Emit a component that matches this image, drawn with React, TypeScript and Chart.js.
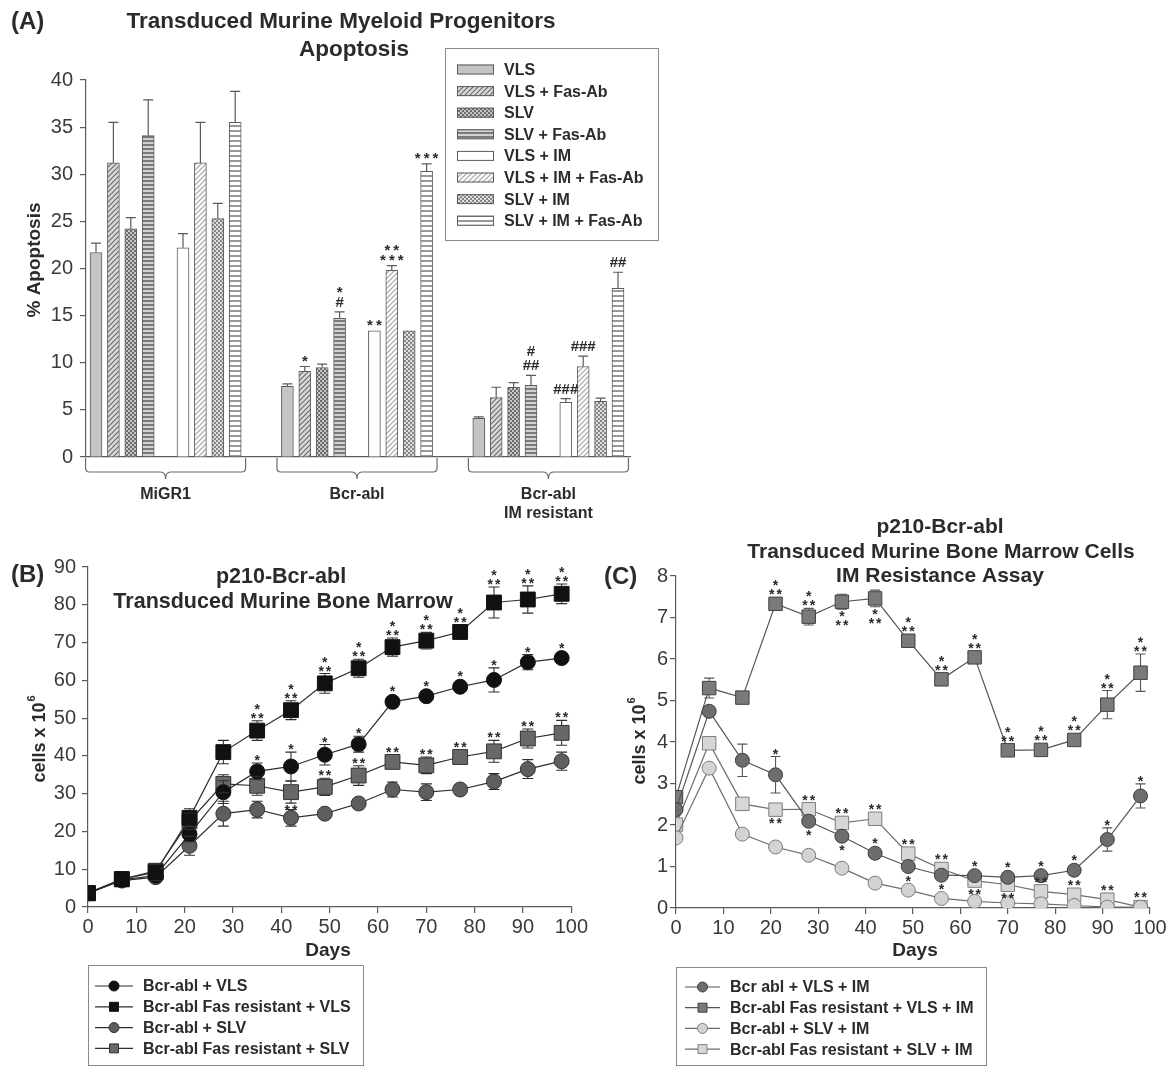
import { useEffect, useRef } from "react";
import { Chart, registerables } from "chart.js";

Chart.register(...registerables);

const FONT = "'Liberation Sans', Arial, Helvetica, sans-serif";
const INK = "#2b2b2b";
const TICK_INK = "#3a3a3a";
const AXIS = "#5a5a5a";

// ---------------- Panel A data ----------------
const aGroups = ["MiGR1", "Bcr-abl", "Bcr-abl\nIM resistant"];
const aConditions = ["VLS", "VLS + Fas-Ab", "SLV", "SLV + Fas-Ab", "VLS + IM", "VLS + IM + Fas-Ab", "SLV + IM", "SLV + IM + Fas-Ab"];
const apoVLS = [21.7, 7.5, 4.1];
const apoVLSFas = [31.2, 9.1, 6.3];
const apoSLV = [24.2, 9.5, 7.4];
const apoSLVFas = [34.1, 14.7, 7.6];
const apoVLSIM = [22.2, 13.4, 5.8];
const apoVLSIMFas = [31.2, 19.8, 9.6];
const apoSLVIM = [25.3, 13.4, 5.9];
const apoSLVIMFas = [35.5, 30.3, 17.9];
const errVLS = [1.0, 0.25, 0.15];
const errVLSFas = [4.3, 0.5, 1.1];
const errSLV = [1.2, 0.35, 0.5];
const errSLVFas = [3.8, 0.7, 1.05];
const errVLSIM = [1.5, 0, 0.4];
const errVLSIMFas = [4.3, 0.5, 1.1];
const errSLVIM = [1.6, 0, 0.35];
const errSLVIMFas = [3.3, 0.8, 1.7];
const sigVLS = ["", "", ""];
const sigVLSFas = ["", "*", ""];
const sigSLV = ["", "", ""];
const sigSLVFas = ["", "*\n#", "#\n##"];
const sigVLSIM = ["", "**", "###"];
const sigVLSIMFas = ["", "**\n***", "###"];
const sigSLVIM = ["", "", ""];
const sigSLVIMFas = ["", "***", "##"];

// ---------------- Panel B data ----------------
const days = [0, 7, 14, 21, 28, 35, 42, 49, 56, 63, 70, 77, 84, 91, 98];
const bLabels = ["Bcr-abl + VLS", "Bcr-abl Fas resistant + VLS", "Bcr-abl + SLV", "Bcr-abl Fas resistant + SLV"];
const bVLS = [3.7, 7.2, 8.3, 19.3, 30.4, 35.9, 37.2, 40.3, 43.1, 54.3, 55.8, 58.3, 60.1, 64.8, 65.9];
const bFasVLS = [3.7, 7.4, 9.2, 23.6, 41.0, 46.7, 52.1, 59.2, 63.2, 68.8, 70.5, 72.8, 80.6, 81.4, 82.9];
const bSLV = [3.6, 7.0, 7.9, 16.2, 24.7, 25.8, 23.6, 24.7, 27.4, 31.1, 30.4, 31.1, 33.2, 36.5, 38.6];
const bFasSLV = [3.6, 7.3, 9.6, 22.7, 32.6, 32.1, 30.4, 31.8, 34.8, 38.4, 37.5, 39.7, 41.2, 44.6, 46.1];
const bErrVLS = [0.5, 0.6, 1.5, 2.0, 3.0, 2.2, 3.8, 2.7, 2.1, 1.3, 1.6, 1.6, 3.2, 2.0, 1.8];
const bErrFasVLS = [0.4, 0.6, 2.2, 2.4, 3.1, 2.6, 2.5, 2.6, 2.4, 2.4, 2.2, 1.7, 4.1, 3.6, 2.6];
const bErrSLV = [0.4, 0.5, 1.2, 2.5, 3.3, 2.2, 2.2, 1.1, 1.3, 2.0, 2.2, 1.9, 2.1, 2.5, 2.4];
const bErrFasSLV = [0.4, 0.5, 1.5, 2.2, 2.4, 2.5, 2.9, 2.3, 2.6, 1.9, 2.2, 1.5, 2.9, 2.5, 3.3];
const bSigVLS = ["", "", "", "", "", "*", "*", "*", "*", "*", "*", "*", "*", "*", "*"];
const bSigFasVLS = ["", "", "", "", "", "*\n**", "*\n**", "*\n**", "*\n**", "*\n**", "*\n**", "*\n**", "*\n**", "*\n**", "*\n**"];
const bSigSLV = ["", "", "", "", "", "", "", "", "", "", "", "", "", "", ""];
const bSigFasSLV = ["", "", "", "", "", "", "**", "**", "**", "**", "**", "**", "**", "**", "**"];
const bSigFasSLVBelow = [6];

// ---------------- Panel C data ----------------
const cLabels = ["Bcr abl + VLS + IM", "Bcr-abl Fas resistant + VLS + IM", "Bcr-abl + SLV + IM", "Bcr-abl Fas resistant + SLV + IM"];
const cVLSIM = [2.37, 4.74, 3.56, 3.21, 2.09, 1.73, 1.32, 1.0, 0.79, 0.78, 0.74, 0.78, 0.91, 1.65, 2.7];
const cFasVLSIM = [2.67, 5.3, 5.07, 7.33, 7.02, 7.38, 7.46, 6.44, 5.51, 6.04, 3.8, 3.81, 4.05, 4.9, 5.67];
const cSLVIM = [1.69, 3.37, 1.78, 1.47, 1.27, 0.96, 0.6, 0.43, 0.23, 0.16, 0.12, 0.1, 0.06, 0.02, 0.02];
const cFasSLVIM = [2.01, 3.97, 2.51, 2.37, 2.38, 2.05, 2.15, 1.31, 0.94, 0.66, 0.56, 0.4, 0.32, 0.2, 0.02];
const cErrVLSIM = [0.1, 0.1, 0.39, 0.44, 0.08, 0.08, 0.06, 0.05, 0.05, 0.04, 0.05, 0.05, 0.05, 0.28, 0.29];
const cErrFasVLSIM = [0.1, 0.24, 0.05, 0.08, 0.2, 0.18, 0.2, 0.06, 0.05, 0.05, 0.05, 0.05, 0.07, 0.34, 0.45];
const cErrSLVIM = [0.05, 0.08, 0.05, 0.04, 0.04, 0.04, 0.03, 0.03, 0.03, 0.02, 0.02, 0.02, 0.02, 0.02, 0.02];
const cErrFasSLVIM = [0.05, 0.1, 0.05, 0.08, 0.1, 0.08, 0.08, 0.05, 0.05, 0.04, 0.04, 0.04, 0.04, 0.03, 0.02];
const cSigVLSIM = ["", "", "", "*", "*", "*", "*", "*", "*", "*", "*", "*", "*", "*", "*"];
const cSigVLSIMBelow = [4, 5, 7, 8];
const cSigFasVLSIM = ["", "", "", "*\n**", "*\n**", "*\n**", "*\n**", "*\n**", "*\n**", "*\n**", "*\n**", "*\n**", "*\n**", "*\n**", "*\n**"];
const cSigFasVLSIMBelow = [5, 6];
const cSigSLVIM = ["", "", "", "", "", "", "", "", "", "", "", "", "", "", ""];
const cSigFasSLVIM = ["", "", "", "**", "**", "**", "**", "**", "**", "**", "**", "**", "**", "**", "**"];
const cSigFasSLVIMBelow = [3, 9, 10];

// ---------------- helpers ----------------
function makePattern(w: number, h: number, draw: (c: CanvasRenderingContext2D) => void) {
  const cv = document.createElement("canvas");
  cv.width = w;
  cv.height = h;
  const c = cv.getContext("2d")!;
  draw(c);
  return c.createPattern(cv, "repeat")!;
}
function diagPattern(bg: string, fg: string, size: number) {
  return makePattern(size, size, (c) => {
    c.fillStyle = bg;
    c.fillRect(0, 0, size, size);
    c.strokeStyle = fg;
    c.lineWidth = 1.1;
    c.beginPath();
    c.moveTo(-1, size + 1);
    c.lineTo(size + 1, -1);
    c.moveTo(-1, 1);
    c.lineTo(1, -1);
    c.moveTo(size - 1, size + 1);
    c.lineTo(size + 1, size - 1);
    c.stroke();
  });
}
function checkerPattern(a: string, b: string) {
  return makePattern(4, 4, (c) => {
    c.fillStyle = b;
    c.fillRect(0, 0, 4, 4);
    c.fillStyle = a;
    c.fillRect(0, 0, 2, 2);
    c.fillRect(2, 2, 2, 2);
  });
}
function stripePattern(bg: string, fg: string, period: number, thick: number) {
  return makePattern(4, period, (c) => {
    c.fillStyle = bg;
    c.fillRect(0, 0, 4, period);
    c.fillStyle = fg;
    c.fillRect(0, 0, 4, thick);
  });
}

type TextItem = {
  text: string;
  x: number;
  y: number;
  size: number;
  bold?: boolean;
  align?: CanvasTextAlign;
  rotate?: boolean;
  sup?: string;
};

function textPlugin(items: TextItem[]) {
  return {
    id: "texts",
    afterDraw(chart: any) {
      const ctx: CanvasRenderingContext2D = chart.ctx;
      items.forEach((t) => {
        ctx.save();
        const f = `${t.bold ? "bold " : ""}${t.size}px ${FONT}`;
        ctx.font = f;
        ctx.fillStyle = INK;
        ctx.textBaseline = "middle";
        ctx.textAlign = t.align || "center";
        ctx.translate(t.x, t.y);
        if (t.rotate) ctx.rotate(-Math.PI / 2);
        if (t.sup) {
          const w1 = ctx.measureText(t.text).width;
          const sf = `${t.bold ? "bold " : ""}${Math.round(t.size * 0.62)}px ${FONT}`;
          ctx.font = sf;
          const w2 = ctx.measureText(t.sup).width;
          ctx.font = f;
          const start = -(w1 + w2 + 1) / 2;
          ctx.textAlign = "left";
          ctx.fillText(t.text, start, 0);
          ctx.font = sf;
          ctx.fillText(t.sup, start + w1 + 1, -t.size * 0.42);
        } else {
          ctx.fillText(t.text, 0, 0);
        }
        ctx.restore();
      });
    },
  };
}

function halfSize(ds: any) {
  if (ds.type === "bar" || ds.barThickness) return 0;
  const r = ds.pointRadius || 0;
  return ds.pointStyle === "rect" ? r * Math.SQRT1_2 : r;
}

function errorBarPlugin(opts: { upOnly: boolean; cap: number; width: number }) {
  return {
    id: "errorBars",
    afterDatasetsDraw(chart: any) {
      const ctx: CanvasRenderingContext2D = chart.ctx;
      const ys = chart.scales.y;
      chart.data.datasets.forEach((ds: any, di: number) => {
        if (!ds.errors) return;
        const meta = chart.getDatasetMeta(di);
        ctx.save();
        ctx.strokeStyle = ds.errorColor || AXIS;
        ctx.lineWidth = opts.width;
        meta.data.forEach((el: any, i: number) => {
          const e = ds.errors[i];
          if (!e) return;
          const v = ds.data[i].y;
          const x = el.x;
          const top = ys.getPixelForValue(v + e);
          const bot = opts.upOnly ? ys.getPixelForValue(v) : ys.getPixelForValue(v - e);
          const h = halfSize(ds);
          ctx.beginPath();
          if (opts.upOnly) {
            ctx.moveTo(x, bot);
            ctx.lineTo(x, top);
          } else {
            if (top < el.y - h) {
              ctx.moveTo(x, el.y - h);
              ctx.lineTo(x, top);
            }
            if (bot > el.y + h) {
              ctx.moveTo(x, el.y + h);
              ctx.lineTo(x, bot);
            }
          }
          if (top < el.y - h || opts.upOnly) {
            ctx.moveTo(x - opts.cap / 2, top);
            ctx.lineTo(x + opts.cap / 2, top);
          }
          if (!opts.upOnly && bot > el.y + h) {
            ctx.moveTo(x - opts.cap / 2, bot);
            ctx.lineTo(x + opts.cap / 2, bot);
          }
          ctx.stroke();
        });
        ctx.restore();
      });
    },
  };
}

function sigPlugin(opts: { size: number; gap: number; lineGap: number; starSpacing: number }) {
  return {
    id: "sigMarks",
    afterDatasetsDraw(chart: any) {
      const ctx: CanvasRenderingContext2D = chart.ctx;
      const ys = chart.scales.y;
      chart.data.datasets.forEach((ds: any, di: number) => {
        if (!ds.marks) return;
        const meta = chart.getDatasetMeta(di);
        const below: number[] = ds.marksBelow || [];
        const h = halfSize(ds);
        meta.data.forEach((el: any, i: number) => {
          const txt: string = ds.marks[i];
          if (!txt) return;
          const v = ds.data[i].y;
          const e = (ds.errors && ds.errors[i]) || 0;
          const lines = txt.split("\n");
          ctx.save();
          ctx.font = `bold ${opts.size}px ${FONT}`;
          ctx.fillStyle = INK;
          ctx.textAlign = "center";
          ctx.textBaseline = "alphabetic";
          const setLS = (line: string) => {
            const isStar = /^\*+$/.test(line);
            (ctx as any).letterSpacing = isStar ? `${opts.starSpacing}px` : "0px";
            return isStar ? opts.starSpacing / 2 : 0;
          };
          if (below.indexOf(i) < 0) {
            let cursor = Math.min(ys.getPixelForValue(v + e), el.y - h) - opts.gap;
            for (let k = lines.length - 1; k >= 0; k--) {
              const dx = setLS(lines[k]);
              const m = ctx.measureText(lines[k]);
              const base = cursor - m.actualBoundingBoxDescent;
              ctx.fillText(lines[k], el.x + dx, base);
              cursor = base - m.actualBoundingBoxAscent - opts.lineGap;
            }
          } else {
            let cursor = Math.max(ys.getPixelForValue(v - e), el.y + h) + opts.gap;
            for (const line of lines) {
              const dx = setLS(line);
              const m = ctx.measureText(line);
              const base = cursor + m.actualBoundingBoxAscent;
              ctx.fillText(line, el.x + dx, base);
              cursor = base + m.actualBoundingBoxDescent + opts.lineGap;
            }
          }
          ctx.restore();
        });
      });
    },
  };
}

function lineLegendPlugin(box: { x: number; y: number; w: number; h: number; row0: number; step: number; lx0: number; lx1: number; tx: number }) {
  return {
    id: "lineLegend",
    afterDraw(chart: any) {
      const ctx: CanvasRenderingContext2D = chart.ctx;
      ctx.save();
      ctx.strokeStyle = "#8a8a8a";
      ctx.lineWidth = 1;
      ctx.strokeRect(box.x + 0.5, box.y + 0.5, box.w, box.h);
      chart.data.datasets.forEach((ds: any, i: number) => {
        const y = box.row0 + i * box.step;
        ctx.strokeStyle = ds.borderColor;
        ctx.lineWidth = 1.2;
        ctx.beginPath();
        ctx.moveTo(box.lx0, y);
        ctx.lineTo(box.lx1, y);
        ctx.stroke();
        const cx = (box.lx0 + box.lx1) / 2;
        ctx.fillStyle = ds.pointBackgroundColor;
        ctx.strokeStyle = ds.pointBorderColor;
        ctx.lineWidth = 1;
        ctx.beginPath();
        if (ds.pointStyle === "rect") ctx.rect(cx - 4.5, y - 4.5, 9, 9);
        else ctx.arc(cx, y, 5, 0, Math.PI * 2);
        ctx.fill();
        ctx.stroke();
        ctx.fillStyle = INK;
        ctx.font = `bold 16px ${FONT}`;
        ctx.textAlign = "left";
        ctx.textBaseline = "middle";
        ctx.fillText(ds.label, box.tx, y + 1);
      });
      ctx.restore();
    },
  };
}

const SLOTS = [0, 1, 2, 3, 5, 6, 7, 8];
const GROUP_STEP = 11;

function configA(): any {
  const values = [apoVLS, apoVLSFas, apoSLV, apoSLVFas, apoVLSIM, apoVLSIMFas, apoSLVIM, apoSLVIMFas];
  const errs = [errVLS, errVLSFas, errSLV, errSLVFas, errVLSIM, errVLSIMFas, errSLVIM, errSLVIMFas];
  const sigs = [sigVLS, sigVLSFas, sigSLV, sigSLVFas, sigVLSIM, sigVLSIMFas, sigSLVIM, sigSLVIMFas];
  const fills: any[] = [
    "#c4c4c4",
    diagPattern("#d8d8d8", "#6a6a6a", 5),
    checkerPattern("#6c6c6c", "#c6c6c6"),
    stripePattern("#d2d2d2", "#7a7a7a", 4, 2),
    "#ffffff",
    diagPattern("#fbfbfb", "#a4a4a4", 5),
    checkerPattern("#858585", "#dedede"),
    stripePattern("#ffffff", "#999999", 5, 2),
  ];
  const datasets = aConditions.map((label, k) => ({
    type: "bar",
    label,
    data: aGroups.map((_, g) => ({ x: g * GROUP_STEP + SLOTS[k], y: values[k][g] })),
    errors: errs[k],
    marks: sigs[k],
    backgroundColor: fills[k],
    borderColor: "#5c5c5c",
    borderWidth: 1,
    barThickness: 12,
    grouped: false,
    errorColor: "#5a5a5a",
  }));

  const bracketPlugin = {
    id: "brackets",
    afterDraw(chart: any) {
      const ctx: CanvasRenderingContext2D = chart.ctx;
      const xs = chart.scales.x;
      const y0 = chart.chartArea.bottom + 1;
      ctx.save();
      ctx.strokeStyle = "#6a6a6a";
      ctx.lineWidth = 1.2;
      aGroups.forEach((name, g) => {
        const c = xs.getPixelForValue(g * GROUP_STEP + 4);
        const hw = xs.getPixelForValue(g * GROUP_STEP + 4 + 4.6) - c;
        const l = c - hw;
        const r = c + hw;
        const yb = y0 + 14;
        const tip = y0 + 21;
        ctx.beginPath();
        ctx.moveTo(l, y0);
        ctx.lineTo(l, yb - 4);
        ctx.quadraticCurveTo(l, yb, l + 4, yb);
        ctx.lineTo(c - 5, yb);
        ctx.quadraticCurveTo(c, yb, c, tip);
        ctx.quadraticCurveTo(c, yb, c + 5, yb);
        ctx.lineTo(r - 4, yb);
        ctx.quadraticCurveTo(r, yb, r, yb - 4);
        ctx.lineTo(r, y0);
        ctx.stroke();
        ctx.fillStyle = INK;
        ctx.font = `bold 16px ${FONT}`;
        ctx.textAlign = "center";
        ctx.textBaseline = "middle";
        name.split("\n").forEach((ln, k) => ctx.fillText(ln, c, 495 + k * 19));
      });
      ctx.restore();
    },
  };

  const legendPlugin = {
    id: "barLegend",
    afterDraw(chart: any) {
      const ctx: CanvasRenderingContext2D = chart.ctx;
      ctx.save();
      ctx.fillStyle = "#ffffff";
      ctx.fillRect(445, 48, 213, 192);
      ctx.strokeStyle = "#8a8a8a";
      ctx.lineWidth = 1;
      ctx.strokeRect(445.5, 48.5, 213, 192);
      chart.data.datasets.forEach((ds: any, i: number) => {
        const y = 69.5 + i * 21.6;
        ctx.fillStyle = ds.backgroundColor;
        ctx.fillRect(457, y - 5, 37, 10);
        ctx.strokeStyle = "#5c5c5c";
        ctx.strokeRect(457.5, y - 4.5, 36, 9);
        ctx.fillStyle = INK;
        ctx.font = `bold 16px ${FONT}`;
        ctx.textAlign = "left";
        ctx.textBaseline = "middle";
        ctx.fillText(ds.label, 504, y + 1);
      });
      ctx.restore();
    },
  };

  return {
    type: "bar",
    data: { datasets },
    options: {
      animation: false,
      responsive: false,
      maintainAspectRatio: false,
      layout: { padding: { left: 0, top: 80, right: 50, bottom: 0 } },
      plugins: { legend: { display: false }, tooltip: { enabled: false } },
      scales: {
        x: {
          type: "linear",
          offset: false,
          min: -0.575,
          max: 30.69,
          ticks: { display: false },
          grid: { display: false, offset: false },
          border: { display: true, color: AXIS, width: 1.2 },
          afterFit: (s: any) => {
            s.height = 73;
          },
        },
        y: {
          min: 0,
          max: 40,
          ticks: { stepSize: 5, color: TICK_INK, font: { size: 20, family: FONT }, padding: 7 },
          grid: { drawOnChartArea: false, drawTicks: true, tickLength: 6, color: AXIS, lineWidth: 1.2 },
          border: { color: AXIS, width: 1.2 },
          afterFit: (s: any) => {
            s.width = 86;
          },
        },
      },
    },
    plugins: [
      errorBarPlugin({ upOnly: true, cap: 10, width: 1.2 }),
      sigPlugin({ size: 15, gap: 5, lineGap: 4, starSpacing: 3 }),
      bracketPlugin,
      legendPlugin,
      textPlugin([
        { text: "(A)", x: 11, y: 22, size: 24, bold: true, align: "left" },
        { text: "Transduced Murine Myeloid Progenitors", x: 341, y: 22, size: 22.5, bold: true },
        { text: "Apoptosis", x: 354, y: 50, size: 22.5, bold: true },
        { text: "% Apoptosis", x: 35, y: 260, size: 19, bold: true, rotate: true },
      ]),
    ],
  };
}

function lineDataset(label: string, values: number[], errors: number[], marks: string[], below: number[], style: any) {
  return {
    type: "line",
    label,
    data: days.map((d, i) => ({ x: d, y: values[i] })),
    errors,
    marks,
    marksBelow: below,
    showLine: true,
    tension: 0,
    borderWidth: 1.2,
    pointBorderWidth: 1,
    pointHoverRadius: 0,
    ...style,
  };
}

function lineScales(yMax: number, yStep: number, yPad: number, yWidth: number): any {
  return {
    x: {
      type: "linear",
      min: 0,
      max: 100,
      ticks: { stepSize: 10, color: TICK_INK, font: { size: 20, family: FONT }, padding: 2, maxRotation: 0 },
      grid: { drawOnChartArea: false, drawTicks: true, tickLength: 6, color: AXIS, lineWidth: 1.2 },
      border: { color: AXIS, width: 1.2 },
      afterFit: (s: any) => {
        s.height = 40;
      },
    },
    y: {
      min: 0,
      max: yMax,
      ticks: { stepSize: yStep, color: TICK_INK, font: { size: 20, family: FONT }, padding: yPad },
      grid: { drawOnChartArea: false, drawTicks: true, tickLength: 6, color: AXIS, lineWidth: 1.2 },
      border: { color: AXIS, width: 1.2 },
      afterFit: (s: any) => {
        s.width = yWidth;
      },
    },
  };
}

function configB(): any {
  const dark = { borderColor: "#2e2e2e", errorColor: "#2e2e2e" };
  const datasets = [
    lineDataset(bLabels[0], bVLS, bErrVLS, bSigVLS, [], { ...dark, pointStyle: "circle", pointRadius: 7.5, pointBackgroundColor: "#111111", pointBorderColor: "#111111" }),
    lineDataset(bLabels[1], bFasVLS, bErrFasVLS, bSigFasVLS, [], { ...dark, pointStyle: "rect", pointRadius: 10.5, pointBackgroundColor: "#111111", pointBorderColor: "#111111" }),
    lineDataset(bLabels[2], bSLV, bErrSLV, bSigSLV, [], { ...dark, pointStyle: "circle", pointRadius: 7.5, pointBackgroundColor: "#5e5e5e", pointBorderColor: "#333333" }),
    lineDataset(bLabels[3], bFasSLV, bErrFasSLV, bSigFasSLV, bSigFasSLVBelow, { ...dark, pointStyle: "rect", pointRadius: 10.5, pointBackgroundColor: "#686868", pointBorderColor: "#333333" }),
  ];
  return {
    type: "line",
    data: { datasets },
    options: {
      animation: false,
      responsive: false,
      maintainAspectRatio: false,
      layout: { padding: { left: 0, top: 67, right: 18, bottom: 119 } },
      plugins: { legend: { display: false }, tooltip: { enabled: false } },
      scales: lineScales(90, 10, 6, 88),
    },
    plugins: [
      errorBarPlugin({ upOnly: false, cap: 11, width: 1.1 }),
      sigPlugin({ size: 14, gap: 2, lineGap: 3, starSpacing: 2 }),
      lineLegendPlugin({ x: 88, y: 465, w: 275, h: 100, row0: 486, step: 20.8, lx0: 95, lx1: 133, tx: 143 }),
      textPlugin([
        { text: "(B)", x: 11, y: 75, size: 24, bold: true, align: "left" },
        { text: "p210-Bcr-abl", x: 281, y: 77, size: 21.5, bold: true },
        { text: "Transduced Murine Bone Marrow", x: 283, y: 102, size: 21.5, bold: true },
        { text: "cells x 10", sup: "6", x: 40, y: 239, size: 18, bold: true, rotate: true },
        { text: "Days", x: 328, y: 451, size: 19, bold: true },
      ]),
    ],
  };
}

function configC(): any {
  const mid = { borderColor: "#555555", errorColor: "#555555" };
  const light = { borderColor: "#6e6e6e", errorColor: "#6e6e6e" };
  const datasets = [
    lineDataset(cLabels[0], cVLSIM, cErrVLSIM, cSigVLSIM, cSigVLSIMBelow, { ...mid, pointStyle: "circle", pointRadius: 7, pointBackgroundColor: "#6d6d6d", pointBorderColor: "#3c3c3c" }),
    lineDataset(cLabels[1], cFasVLSIM, cErrFasVLSIM, cSigFasVLSIM, cSigFasVLSIMBelow, { ...mid, pointStyle: "rect", pointRadius: 9.5, pointBackgroundColor: "#7a7a7a", pointBorderColor: "#404040" }),
    lineDataset(cLabels[2], cSLVIM, cErrSLVIM, cSigSLVIM, [], { ...light, pointStyle: "circle", pointRadius: 7, pointBackgroundColor: "#d3d3d3", pointBorderColor: "#7c7c7c" }),
    lineDataset(cLabels[3], cFasSLVIM, cErrFasSLVIM, cSigFasSLVIM, cSigFasSLVIMBelow, { ...light, pointStyle: "rect", pointRadius: 9.5, pointBackgroundColor: "#d6d6d6", pointBorderColor: "#7e7e7e" }),
  ];
  return {
    type: "line",
    data: { datasets },
    options: {
      animation: false,
      responsive: false,
      maintainAspectRatio: false,
      layout: { padding: { left: 0, top: 76, right: 24, bottom: 118 } },
      plugins: { legend: { display: false }, tooltip: { enabled: false } },
      scales: lineScales(8, 1, 2, 86),
    },
    plugins: [
      errorBarPlugin({ upOnly: false, cap: 10, width: 1.1 }),
      sigPlugin({ size: 14, gap: 2, lineGap: 3, starSpacing: 2 }),
      lineLegendPlugin({ x: 86, y: 467, w: 310, h: 98, row0: 487, step: 20.7, lx0: 95, lx1: 130, tx: 140 }),
      textPlugin([
        { text: "(C)", x: 14, y: 77, size: 24, bold: true, align: "left" },
        { text: "p210-Bcr-abl", x: 350, y: 27, size: 21, bold: true },
        { text: "Transduced Murine Bone Marrow Cells", x: 351, y: 52, size: 21, bold: true },
        { text: "IM Resistance Assay", x: 350, y: 76, size: 21, bold: true },
        { text: "cells x 10", sup: "6", x: 50, y: 241, size: 18, bold: true, rotate: true },
        { text: "Days", x: 325, y: 451, size: 19, bold: true },
      ]),
    ],
  };
}

export default function App() {
  const refA = useRef<HTMLCanvasElement>(null);
  const refB = useRef<HTMLCanvasElement>(null);
  const refC = useRef<HTMLCanvasElement>(null);

  useEffect(() => {
    const charts = [
      new Chart(refA.current!, configA()),
      new Chart(refB.current!, configB()),
      new Chart(refC.current!, configC()),
    ];
    return () => charts.forEach((c) => c.destroy());
  }, []);

  const cv = (l: number, t: number, w: number, h: number): any => ({
    position: "absolute",
    left: l,
    top: t,
    width: w,
    height: h,
  });

  return (
    <div style={{ position: "absolute", left: 0, top: 0, width: 1174, height: 1066, background: "#ffffff", overflow: "hidden" }}>
      <canvas ref={refA} width={680} height={530} style={cv(0, 0, 680, 530)} />
      <canvas ref={refB} width={590} height={566} style={cv(0, 500, 590, 566)} />
      <canvas ref={refC} width={584} height={566} style={cv(590, 500, 584, 566)} />
    </div>
  );
}
